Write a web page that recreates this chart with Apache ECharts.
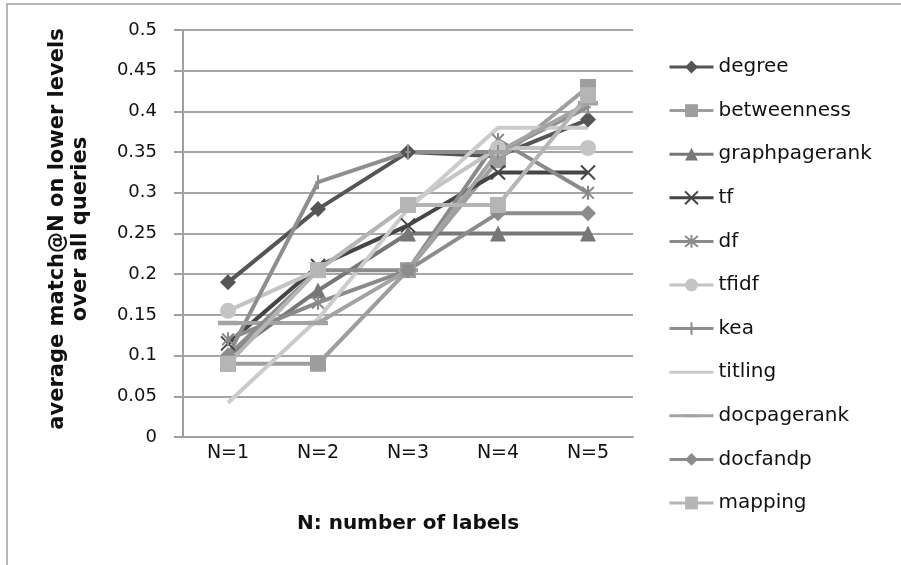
<!DOCTYPE html>
<html><head><meta charset="utf-8">
<script src="https://cdn.jsdelivr.net/npm/echarts@6/dist/echarts.min.js"></script>
<style>html,body{margin:0;padding:0;background:#fff}#c{width:901px;height:565px}</style>
</head><body><div id="c"></div>
<script>
const categories = ['N=1','N=2','N=3','N=4','N=5'];
const yTicks = [0,0.05,0.1,0.15,0.2,0.25,0.3,0.35,0.4,0.45,0.5];
const degree        = [0.19, 0.28, 0.35, 0.345, 0.39];
const betweenness   = [0.09, 0.09, 0.205, 0.34, 0.43];
const graphpagerank = [0.1, 0.18, 0.25, 0.25, 0.25];
const tf            = [0.115, 0.21, 0.26, 0.325, 0.325];
const df            = [0.12, 0.165, 0.205, 0.365, 0.3];
const tfidf         = [0.155, 0.205, 0.285, 0.355, 0.355];
const kea           = [0.1, 0.313, 0.35, 0.35, 0.405];
const titling       = [0.042, 0.145, 0.28, 0.38, 0.38];
const docpagerank   = [0.14, 0.14, 0.205, 0.35, 0.41];
const docfandp      = [0.1, 0.205, 0.205, 0.275, 0.275];
const mapping       = [0.09, 0.205, 0.285, 0.285, 0.42];

const CROSS = 'path://M0,0L10,10M10,0L0,10';
const STAR = 'path://M0,0L10,10M10,0L0,10M5,-1L5,11';
const PLUS = 'path://M5,0L5,10M3,5L7,5';
const DASH = 'path://M0,0L0.01,0M0,7L18,7L18,11L0,11ZM18,18L17.99,18';

function mk(name, data, color, symbol, size, strokeSym) {
  return {
    name, type: 'line', data,
    symbol, symbolSize: size, showSymbol: symbol !== 'none', symbolKeepAspect: true,
    lineStyle: { color, width: 4 },
    itemStyle: strokeSym ? { color: 'rgba(0,0,0,0)', borderColor: color, borderWidth: 2 } : { color, borderWidth: 0 },
    emphasis: { disabled: true },
    animation: false
  };
}

const series = [
  mk('degree', degree, '#555555', 'diamond', 16),
  mk('betweenness', betweenness, '#9e9e9e', 'rect', 16),
  mk('graphpagerank', graphpagerank, '#777777', 'triangle', 16),
  mk('tf', tf, '#454545', CROSS, 14, true),
  mk('df', df, '#8a8a8a', STAR, 14, true),
  mk('tfidf', tfidf, '#c4c4c4', 'circle', 16),
  mk('kea', kea, '#8e8e8e', PLUS, 14, true),
  mk('titling', titling, '#cbcbcb', 'none', 0),
  mk('docpagerank', docpagerank, '#a3a3a3', DASH, 20),
  mk('docfandp', docfandp, '#8c8c8c', 'diamond', 16),
  mk('mapping', mapping, '#b5b5b5', 'rect', 16)
];

const legendData = series.map(s => s.name === 'titling'
  ? { name: s.name, itemStyle: { opacity: 0 } }
  : { name: s.name });

const chart = echarts.init(document.getElementById('c'), null, { renderer: 'canvas' });
chart.setOption({
  animation: false,
  backgroundColor: '#ffffff',
  grid: { left: 183, top: 30, width: 450, height: 407 },
  xAxis: {
    type: 'category', data: categories, boundaryGap: true,
    axisLine: { show: true, lineStyle: { color: '#a0a0a0', width: 2 } },
    axisTick: { show: false },
    axisLabel: { margin: 7, fontFamily: 'DejaVu Sans', fontSize: 19, color: '#111' },
    name: 'N: number of labels', nameLocation: 'middle', nameGap: 77,
    nameTextStyle: { fontFamily: 'DejaVu Sans', fontWeight: 'bold', fontSize: 20, color: '#111' }
  },
  yAxis: {
    type: 'value', min: 0, max: 0.5, interval: 0.05,
    axisLine: { show: true, lineStyle: { color: '#a0a0a0', width: 2 } },
    axisTick: { show: true, length: 9, lineStyle: { color: '#a0a0a0', width: 2 } },
    axisLabel: { margin: 26, fontFamily: 'DejaVu Sans', fontSize: 18, color: '#111',
      formatter: v => String(parseFloat(v.toFixed(2))) },
    splitLine: { show: true, lineStyle: { color: '#a6a6a6', width: 2 } }
  },
  legend: {
    orient: 'vertical', left: 663, top: 51,
    itemWidth: 44, itemHeight: 16, itemGap: 21.6,
    lineStyle: { width: 3 },
    textStyle: { fontFamily: 'DejaVu Sans', fontSize: 20, color: '#111', lineHeight: 22 },
    data: legendData
  },
  graphic: [
    { type: 'rect', shape: { x: 7, y: 4, width: 900, height: 600 }, style: { fill: 'none', stroke: '#a0a0a0', lineWidth: 1.5 }, silent: true },
    { type: 'text', x: 69, y: 229, rotation: Math.PI / 2,
      style: { text: 'average match@N on lower levels\nover all queries', fontFamily: 'DejaVu Sans', fontWeight: 'bold', fontSize: 21, lineHeight: 23, fill: '#111', align: 'center', verticalAlign: 'middle' } }
  ],
  series
});
</script></body></html>
